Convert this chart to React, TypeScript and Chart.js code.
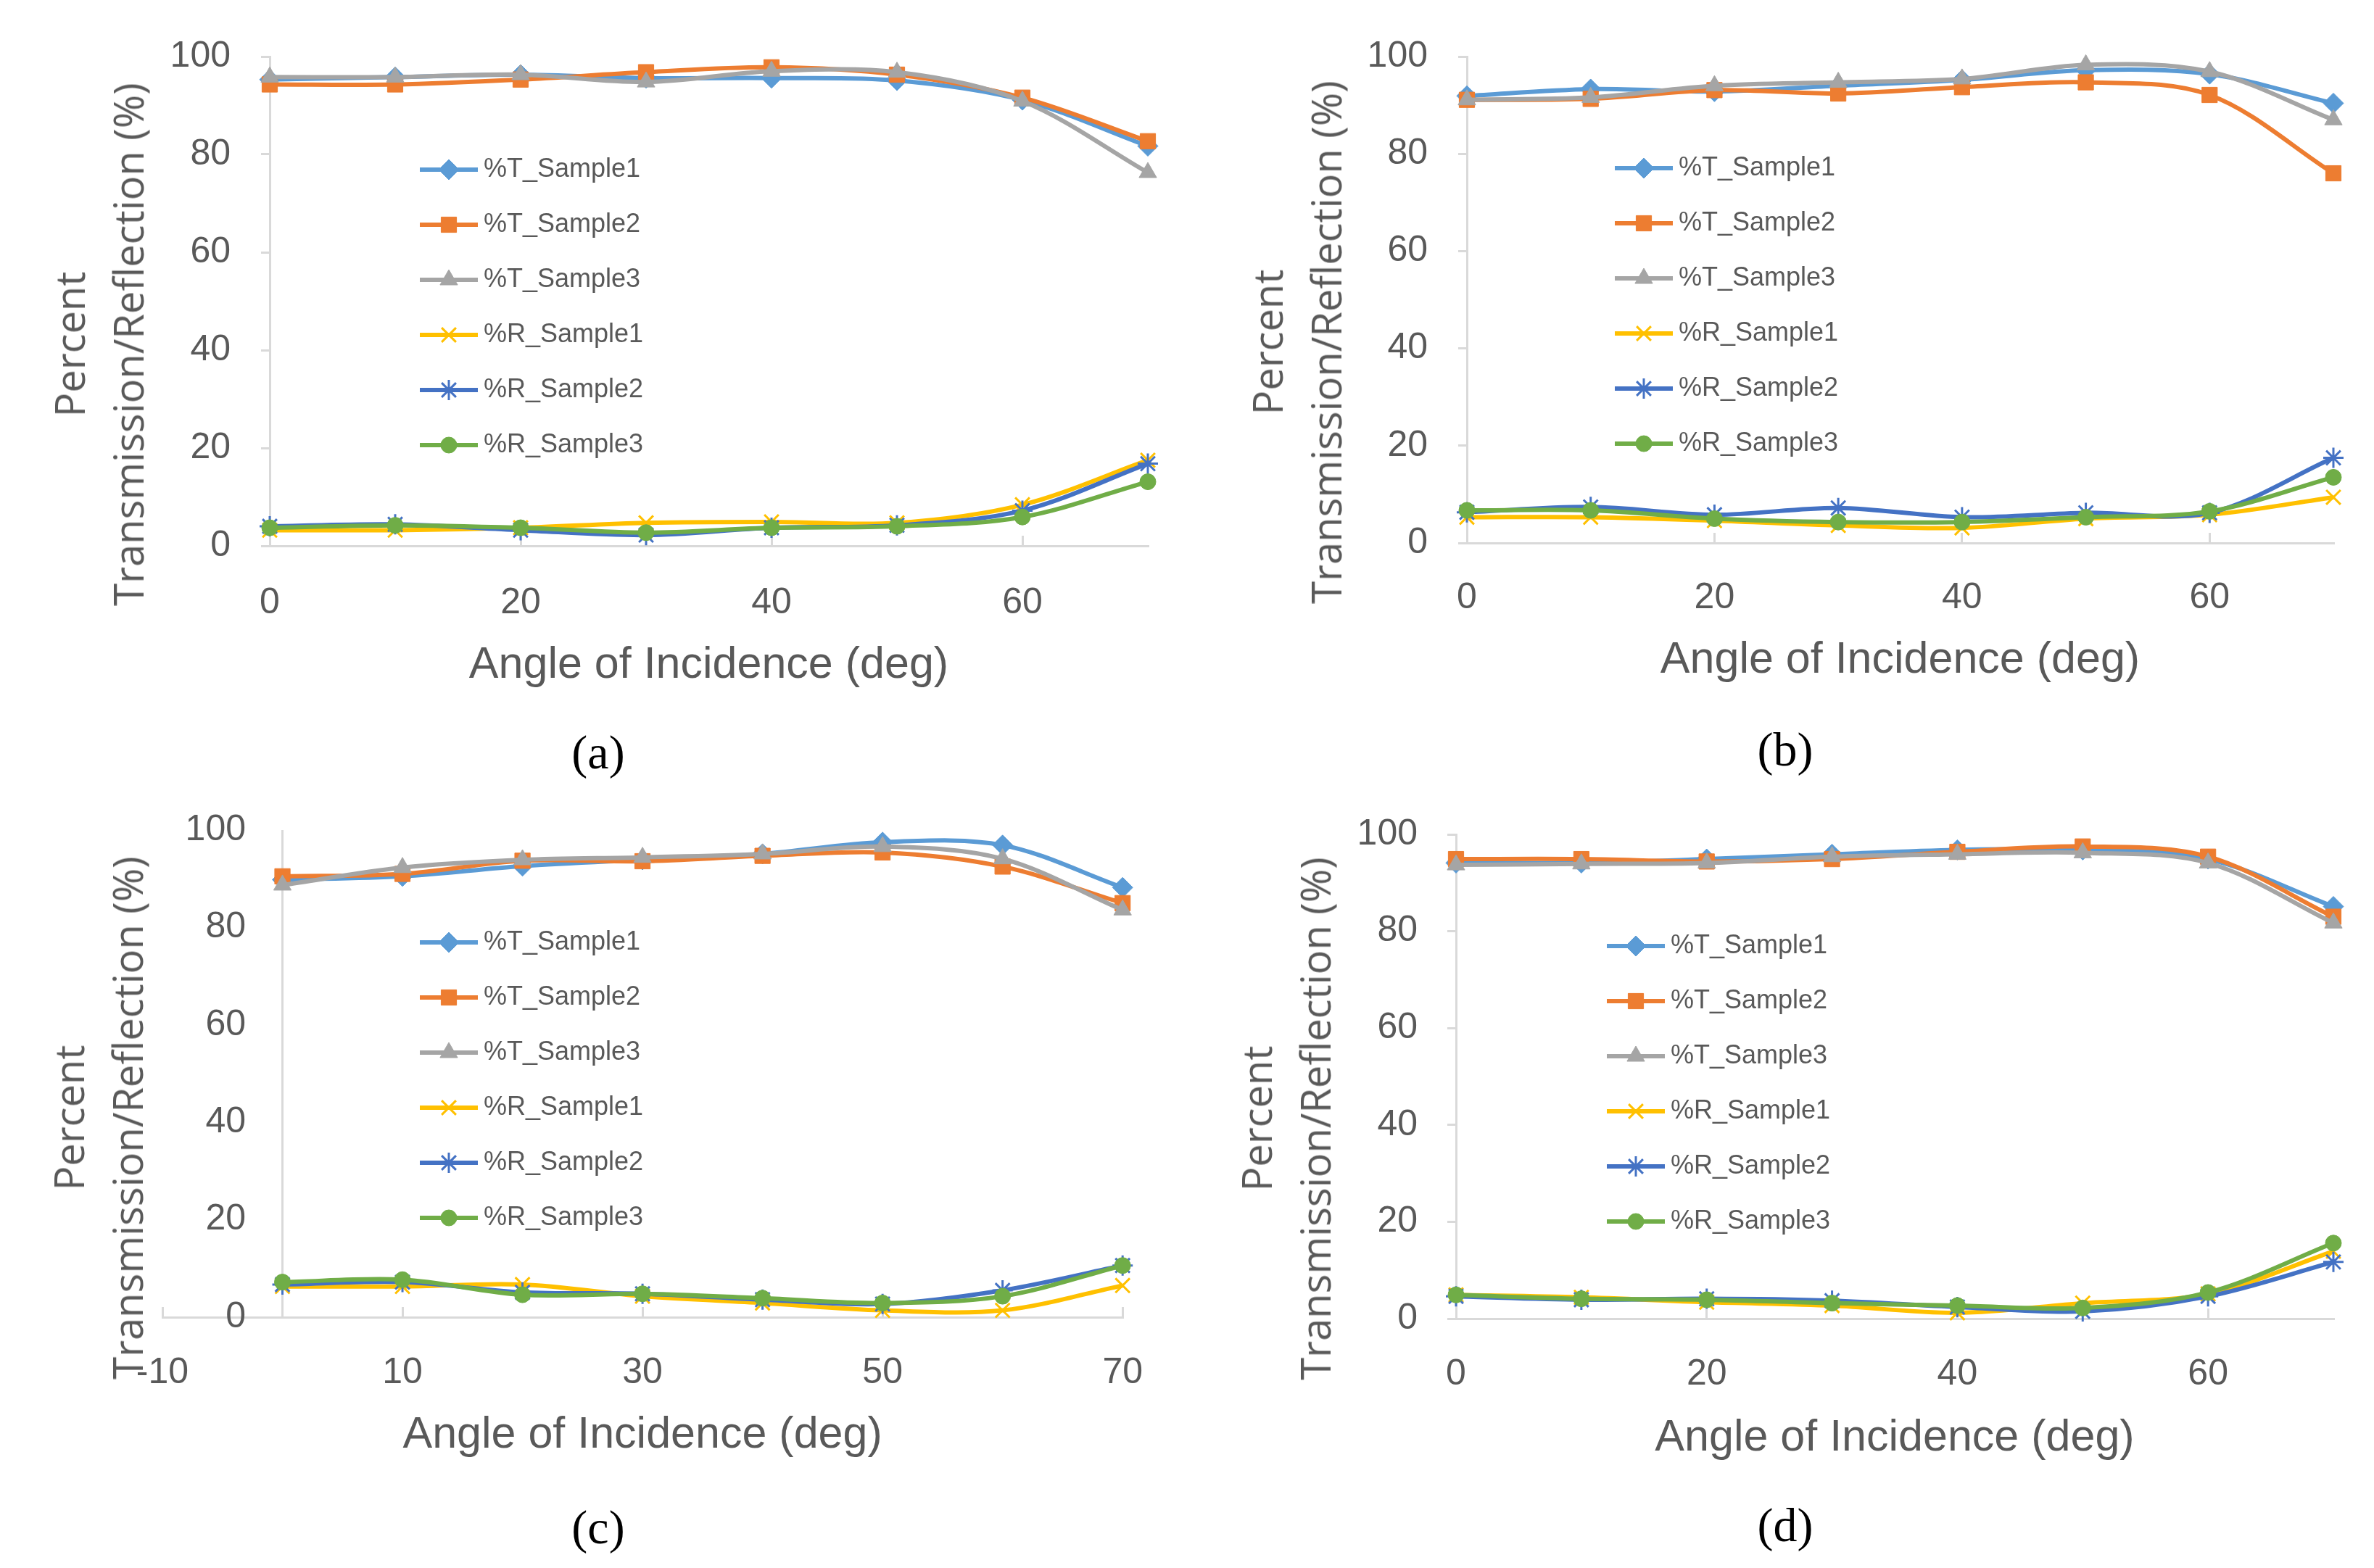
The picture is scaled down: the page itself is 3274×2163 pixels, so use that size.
import { useEffect, useRef } from "react";
import { Chart, registerables, type ChartConfiguration, type Plugin } from "chart.js";
import { drawPoint } from "chart.js/helpers";

Chart.register(...registerables);

// ---- data ----
const angles = [0, 10, 20, 30, 40, 50, 60, 70];
const seriesLabels = ["%T_Sample1", "%T_Sample2", "%T_Sample3", "%R_Sample1", "%R_Sample2", "%R_Sample3"];

const xTicksStd = [0, 20, 40, 60];
const xTicksShifted = [-10, 10, 30, 50, 70];
const yTicks = [0, 20, 40, 60, 80, 100];

// (a)
const aT1 = [95.3, 95.8, 96.3, 95.6, 95.6, 95.1, 91.1, 81.7];
const aT2 = [94.3, 94.3, 95.3, 96.8, 97.8, 96.3, 91.6, 82.7];
const aT3 = [95.8, 95.8, 96.3, 94.8, 97.0, 96.8, 90.9, 76.3];
const aR1 = [3.2, 3.2, 3.7, 4.7, 4.9, 4.7, 8.4, 17.5];
const aR2 = [4.0, 4.4, 3.2, 2.2, 3.7, 4.2, 7.2, 16.8];
const aR3 = [3.7, 4.2, 3.7, 2.7, 3.7, 4.0, 5.9, 13.1];

// (b)
const bT1 = [91.9, 93.3, 92.8, 94.0, 95.2, 97.2, 96.4, 90.4];
const bT2 = [91.1, 91.3, 93.1, 92.4, 93.7, 94.7, 92.1, 76.0];
const bT3 = [91.1, 91.6, 94.0, 94.7, 95.4, 98.3, 96.9, 87.0];
const bR1 = [5.3, 5.3, 4.6, 3.6, 3.1, 5.0, 5.8, 9.4];
const bR2 = [6.3, 7.4, 5.8, 7.2, 5.3, 6.2, 6.2, 17.5];
const bR3 = [6.7, 6.7, 5.0, 4.3, 4.3, 5.3, 6.5, 13.5];

// (c)
const cT1 = [89.8, 90.5, 92.6, 93.9, 95.1, 97.5, 96.9, 88.2];
const cT2 = [90.5, 91.0, 93.7, 93.6, 94.7, 95.4, 92.5, 85.0];
const cT3 = [88.7, 92.3, 93.9, 94.4, 95.1, 96.6, 94.1, 83.6];
const cR1 = [6.3, 6.3, 6.7, 4.3, 2.9, 1.4, 1.4, 6.5];
const cR2 = [6.7, 7.2, 5.1, 4.8, 3.6, 2.7, 5.5, 10.6];
const cR3 = [7.2, 7.7, 4.6, 4.8, 3.9, 2.9, 4.3, 10.6];

// (d)
const dT1 = [94.1, 94.1, 94.9, 95.9, 96.8, 96.8, 94.9, 85.1];
const dT2 = [94.9, 94.9, 94.4, 94.9, 96.4, 97.5, 95.4, 83.0];
const dT3 = [93.7, 93.9, 94.1, 95.4, 95.9, 96.2, 94.1, 81.7];
const dR1 = [4.9, 4.4, 3.4, 2.7, 1.2, 3.2, 5.1, 13.9];
const dR2 = [4.6, 3.9, 4.1, 3.7, 2.4, 1.5, 4.6, 11.7];
const dR3 = [4.9, 4.1, 3.9, 3.2, 2.7, 2.2, 5.4, 15.6];

// ---- styles ----
const seriesColors = ["#5B9BD5", "#ED7D31", "#A5A5A5", "#FFC000", "#4472C4", "#70AD47"];
const pointStyles = ["rectRot", "rect", "triangle", "crossRot", "star", "circle"];
const pointRadii = [14, 15, 14, 14, 14, 11];

const AXIS = "#D9D9D9";
const TEXT = "#595959";
const SANS = "'Liberation Sans', Arial, sans-serif";
const WIDE = "'Open Sans', 'DejaVu Sans', sans-serif";
const SERIF = "'Liberation Serif', 'Times New Roman', serif";
const TICK_SIZE = 50;
const XTITLE_SIZE = 61;
const LEGEND_SIZE = 36;

const CANVAS_W = 1637;
const CANVAS_H = 1000;

Chart.defaults.font.family = SANS;

type Geo = {
  ox: number; oy: number;
  left: number; right: number; top: number; bottom: number;
  xLabel: number; xTitle: number; labelRight: number;
  legendDx: number; legendDy: number;
  yTitleX: number; yTitleY: number;
  captionX: number; captionY: number; caption: string;
};

function textWidth(text: string, font: string) {
  const ctx = document.createElement("canvas").getContext("2d");
  if (!ctx) return 0;
  ctx.font = font;
  return ctx.measureText(text).width;
}

const insideLegend: Plugin<"line"> = {
  id: "insideLegend",
  afterDraw(chart, _args, opts: any) {
    const { ctx, chartArea } = chart;
    const x0 = chartArea.left + opts.dx;
    ctx.save();
    ctx.font = `${LEGEND_SIZE}px ${SANS}`;
    ctx.textBaseline = "middle";
    ctx.textAlign = "left";
    chart.data.datasets.forEach((ds: any, i: number) => {
      const y = chartArea.top + opts.dy + i * opts.step;
      ctx.strokeStyle = ds.borderColor;
      ctx.lineWidth = ds.borderWidth;
      ctx.beginPath();
      ctx.moveTo(x0, y);
      ctx.lineTo(x0 + 80, y);
      ctx.stroke();
      ctx.fillStyle = ds.pointBackgroundColor;
      ctx.strokeStyle = ds.pointBorderColor;
      ctx.lineWidth = ds.pointBorderWidth;
      drawPoint(ctx, { pointStyle: ds.pointStyle, radius: ds.pointRadius, rotation: 0, borderWidth: ds.pointBorderWidth } as any, x0 + 40, y);
      ctx.fillStyle = TEXT;
      ctx.fillText(ds.label, x0 + 88, y);
    });
    ctx.restore();
  },
};

function Panel({ geo, values, xTicks, axisAtZero }: { geo: Geo; values: number[][]; xTicks: number[]; axisAtZero: boolean }) {
  const canvasRef = useRef<HTMLCanvasElement | null>(null);

  useEffect(() => {
    const el = canvasRef.current;
    if (!el) return;

    const xAxisH = geo.xTitle - geo.bottom + XTITLE_SIZE * 0.6;
    const xTickLen = -14;
    const yTickLen = 12;
    const xMin = xTicks[0] < 0 ? xTicks[0] : 0;
    const tickSet = axisAtZero ? [...xTicks, 0].sort((p, q) => p - q) : xTicks;
    const widest = textWidth(String(yTicks[yTicks.length - 1]), `${TICK_SIZE}px ${SANS}`);

    // when the vertical axis crosses at x = 0 the labels sit inside the plot area
    const yTickOpts = axisAtZero
      ? { mirror: true, crossAlign: "far" as const, padding: geo.labelRight - geo.left - widest }
      : { padding: geo.left - yTickLen - geo.labelRight };

    const cfg: ChartConfiguration<"line"> = {
      type: "line",
      data: {
        datasets: values.map((vals, i) => ({
          label: seriesLabels[i],
          data: angles.map((a, j) => ({ x: a, y: vals[j] })),
          borderColor: seriesColors[i],
          backgroundColor: seriesColors[i],
          borderWidth: 6,
          tension: 0.33,
          fill: false,
          clip: false as any,
          order: values.length - i,
          pointStyle: pointStyles[i] as any,
          pointRadius: pointRadii[i],
          pointHoverRadius: pointRadii[i],
          pointBackgroundColor: seriesColors[i],
          pointBorderColor: seriesColors[i],
          pointBorderWidth: i === 3 || i === 4 ? 3 : 1,
        })),
      },
      options: {
        animation: false,
        responsive: false,
        devicePixelRatio: 1,
        events: [],
        layout: {
          padding: { left: 0, top: geo.top, right: CANVAS_W - geo.right, bottom: CANVAS_H - geo.bottom - xAxisH },
        },
        plugins: {
          legend: { display: false },
          tooltip: { enabled: false },
          insideLegend: { dx: geo.legendDx, dy: geo.legendDy, step: 76 },
        } as any,
        scales: {
          x: {
            type: "linear",
            min: xMin,
            max: 70,
            afterBuildTicks: (s: any) => {
              s.ticks = tickSet.map((v) => ({ value: v }));
            },
            afterFit: (s: any) => {
              s.height = xAxisH;
            },
            ticks: {
              autoSkip: false,
              maxRotation: 0,
              padding: geo.xLabel - geo.bottom - TICK_SIZE * 0.6 - xTickLen,
              color: TEXT,
              font: { size: TICK_SIZE },
              callback: (v: any) => (xTicks.includes(Number(v)) ? String(v) : ""),
            },
            grid: {
              drawOnChartArea: axisAtZero,
              drawTicks: true,
              tickLength: xTickLen,
              lineWidth: 3,
              color: (c: any) => (axisAtZero && c.tick && c.tick.value !== 0 ? "rgba(0,0,0,0)" : AXIS),
              tickColor: (c: any) => (c.tick && c.tick.value === 0 && axisAtZero ? "rgba(0,0,0,0)" : AXIS),
            },
            border: { display: true, color: AXIS, width: 3 },
            title: {
              display: true,
              text: "Angle of Incidence (deg)",
              color: TEXT,
              font: { size: XTITLE_SIZE },
              padding: { top: 0, bottom: 0 },
            },
          },
          y: {
            type: "linear",
            min: 0,
            max: 100,
            afterBuildTicks: (s: any) => {
              s.ticks = yTicks.map((v) => ({ value: v }));
            },
            afterFit: (s: any) => {
              s.width = geo.left;
            },
            ticks: {
              ...yTickOpts,
              color: TEXT,
              font: { size: TICK_SIZE },
            },
            grid: {
              drawOnChartArea: false,
              drawTicks: !axisAtZero,
              tickLength: yTickLen,
              lineWidth: 3,
              color: AXIS,
            },
            border: { display: !axisAtZero, color: AXIS, width: 3 },
          },
        },
      },
      plugins: [insideLegend],
    };

    const chart = new Chart(el, cfg);
    return () => chart.destroy();
  }, [geo, values, xTicks, axisAtZero]);

  return (
    <>
      <canvas
        ref={canvasRef}
        width={CANVAS_W}
        height={CANVAS_H}
        style={{ position: "absolute", left: geo.ox, top: geo.oy, width: CANVAS_W, height: CANVAS_H }}
      />
      <div
        style={{
          position: "absolute",
          left: geo.yTitleX,
          top: geo.yTitleY,
          transform: "translate(-50%, -50%) rotate(-90deg)",
          whiteSpace: "nowrap",
          textAlign: "center",
          font: `56px/81px ${WIDE}`,
          color: TEXT,
        }}
      >
        Percent
        <br />
        Transmission/Reflection (%)
      </div>
      <div
        style={{
          position: "absolute",
          left: geo.captionX,
          top: geo.captionY,
          transform: "translate(-50%, -50%)",
          font: `66px ${SERIF}`,
          color: "#000",
          whiteSpace: "nowrap",
        }}
      >
        {geo.caption}
      </div>
    </>
  );
}

const geoA: Geo = {
  ox: 0, oy: 0, left: 372, right: 1583, top: 78, bottom: 753,
  xLabel: 832, xTitle: 918, labelRight: 318, legendDx: 207, legendDy: 156,
  yTitleX: 136, yTitleY: 475, captionX: 825, captionY: 1038, caption: "(a)",
};
const geoB: Geo = {
  ox: 1637, oy: 0, left: 386, right: 1581, top: 78, bottom: 749,
  xLabel: 825, xTitle: 911, labelRight: 332, legendDx: 204, legendDy: 154,
  yTitleX: 1788, yTitleY: 472, captionX: 2462, captionY: 1034, caption: "(b)",
};
const geoC: Geo = {
  ox: 0, oy: 1080, left: 224, right: 1571, top: 65, bottom: 737,
  xLabel: 814, xTitle: 900, labelRight: 339, legendDx: 355, legendDy: 155,
  yTitleX: 135, yTitleY: 1542, captionX: 825, captionY: 2107, caption: "(c)",
};
const geoD: Geo = {
  ox: 1637, oy: 1080, left: 371, right: 1581, top: 62, bottom: 739,
  xLabel: 816, xTitle: 904, labelRight: 318, legendDx: 208, legendDy: 154,
  yTitleX: 1773, yTitleY: 1543, captionX: 2462, captionY: 2104, caption: "(d)",
};

const valuesA = [aT1, aT2, aT3, aR1, aR2, aR3];
const valuesB = [bT1, bT2, bT3, bR1, bR2, bR3];
const valuesC = [cT1, cT2, cT3, cR1, cR2, cR3];
const valuesD = [dT1, dT2, dT3, dR1, dR2, dR3];

export default function App() {
  return (
    <div
      style={{
        position: "absolute",
        left: 0,
        top: 0,
        width: 3274,
        height: 2163,
        background: "#fff",
        overflow: "hidden",
      }}
    >
      <Panel geo={geoA} values={valuesA} xTicks={xTicksStd} axisAtZero={false} />
      <Panel geo={geoB} values={valuesB} xTicks={xTicksStd} axisAtZero={false} />
      <Panel geo={geoC} values={valuesC} xTicks={xTicksShifted} axisAtZero={true} />
      <Panel geo={geoD} values={valuesD} xTicks={xTicksStd} axisAtZero={false} />
    </div>
  );
}
